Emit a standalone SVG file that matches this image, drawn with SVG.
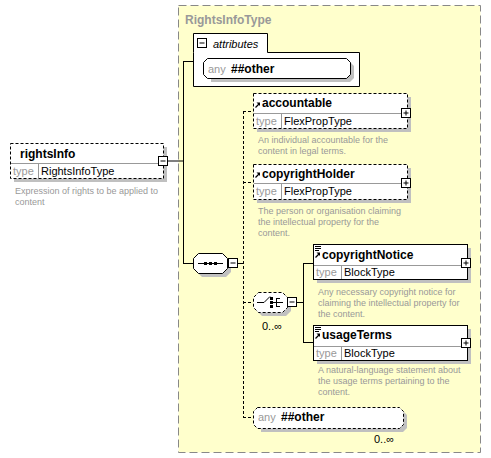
<svg xmlns="http://www.w3.org/2000/svg" width="491" height="458" viewBox="0 0 491 458">
<defs>
<style>
text{font-family:"Liberation Sans",Arial,sans-serif}
.nm{font-size:12px;font-weight:bold;fill:#000}
.ty{font-size:11px;fill:#999}
.tv{font-size:11px;fill:#000}
.ds{font-size:9px;fill:#999}
.sh{fill:#c0c0c0}
.box{fill:#fff;stroke:#000;stroke-width:1}
.dbox{fill:#fff;stroke:#000;stroke-width:1;stroke-dasharray:3,2}
.ln{stroke:#000;stroke-width:1;fill:none}
.dl{stroke:#000;stroke-width:1;fill:none;stroke-dasharray:3,2}
.sep{stroke:#999;stroke-width:1}
.pm{fill:#fff;stroke:#000;stroke-width:1}
</style>
<g id="plus"><rect class="pm" x="0" y="0" width="9" height="9"/><path class="ln" d="M2,4.5H7M4.5,2V7"/></g>
<g id="minus"><rect class="pm" x="0" y="0" width="9" height="9"/><path class="ln" d="M2,4.5H7"/></g>
<g id="arr"><path d="M0.5,5.5L4,2" stroke="#000" stroke-width="1.2" fill="none"/><path d="M1.5,0.5H5V4Z" fill="#000"/></g>
<g id="doc"><path d="M0,0.5H6M0,2.5H6M0,4.5H4" stroke="#000" stroke-width="1" fill="none"/></g>
</defs>

<g id="RightsInfoType">
<rect x="178.5" y="5.5" width="302" height="447" fill="#ffffcc" stroke="#888" stroke-width="1" stroke-dasharray="8,4"/>
<text x="185" y="24" font-size="12" font-weight="bold" fill="#999">RightsInfoType</text>
</g>

<g id="connectors">
<path class="ln" d="M168,161H183M183.5,61V263M183,61.5H193M183,263.5H193M237,263.5H243"/>
<path class="dl" d="M243.5,111V417M243,111.5H253M243,182.5H253M243,302.5H253M243,417.5H253"/>
<path class="ln" d="M297,302.5H303M303.5,263V342M303,263.5H313M303,342.5H313"/>
</g>

<g id="rightsInfo">
<rect class="sh" x="14" y="147" width="153" height="35"/>
<rect class="dbox" x="10.5" y="143.5" width="153" height="35"/>
<line class="sep" x1="11" y1="163.5" x2="163" y2="163.5"/>
<line class="sep" x1="38.5" y1="164" x2="38.5" y2="178"/>
<text class="nm" x="20" y="158">rightsInfo</text>
<text class="ty" x="13" y="175">type</text>
<text class="tv" x="41" y="175">RightsInfoType</text>
<use href="#minus" x="158.5" y="156.5"/>
<text class="ds" x="15" y="194">Expression of rights to be applied to</text>
<text class="ds" x="15" y="205">content</text>
</g>

<g id="attributes">
<path d="M193.5,52.5V33.5H267.5V52.5H359.5V86.5H193.5Z" fill="#fff" stroke="#000"/>
<use href="#minus" x="197.5" y="38.5"/>
<text x="213" y="48" font-size="11" font-style="italic" fill="#000">attributes</text>
<path class="sh" d="M211,62H350L354,66V78L350,82H211Z"/>
<path d="M207.5,58.5H346.5L350.5,62.5V74.5L346.5,78.5H207.5L203.5,74.5V62.5Z" fill="#fff" stroke="#000"/>
<text x="208" y="73" font-size="11" fill="#999">any</text>
<text class="nm" x="231" y="73">##other</text>
</g>

<g id="sequence">
<path class="sh" d="M202,257H226L231,262V272L226,277H202L197,272V262Z"/>
<path d="M198.5,253.5H222.5L227.5,258.5V268.5L222.5,273.5H198.5L193.5,268.5V258.5Z" fill="#fff" stroke="#000"/>
<path class="ln" d="M198,263.5H223"/>
<rect x="204" y="262" width="3" height="3" fill="#000"/>
<rect x="209" y="262" width="3" height="3" fill="#000"/>
<rect x="214" y="262" width="3" height="3" fill="#000"/>
<use href="#minus" x="228.5" y="258.5"/>
</g>

<g id="accountable">
<rect class="sh" x="257" y="97" width="154" height="35"/>
<rect class="dbox" x="253.5" y="93.5" width="154" height="35"/>
<line class="sep" x1="254" y1="113.5" x2="407" y2="113.5"/>
<line class="sep" x1="281.5" y1="114" x2="281.5" y2="128"/>
<use href="#arr" x="255" y="102"/>
<text class="nm" x="262" y="107">accountable</text>
<text class="ty" x="256" y="125">type</text>
<text class="tv" x="284" y="125">FlexPropType</text>
<use href="#plus" x="401.5" y="108.5"/>
<text class="ds" x="258" y="143">An individual accountable for the</text>
<text class="ds" x="258" y="154">content in legal terms.</text>
</g>

<g id="copyrightHolder">
<rect class="sh" x="257" y="168" width="154" height="35"/>
<rect class="dbox" x="253.5" y="164.5" width="154" height="35"/>
<line class="sep" x1="254" y1="183.5" x2="407" y2="183.5"/>
<line class="sep" x1="281.5" y1="184" x2="281.5" y2="199"/>
<use href="#arr" x="255" y="172"/>
<text class="nm" x="262" y="178">copyrightHolder</text>
<text class="ty" x="256" y="195">type</text>
<text class="tv" x="284" y="195">FlexPropType</text>
<use href="#plus" x="401.5" y="178.5"/>
<text class="ds" x="258" y="214">The person or organisation claiming</text>
<text class="ds" x="258" y="225">the intellectual property for the</text>
<text class="ds" x="258" y="236">content.</text>
</g>

<g id="choice">
<path class="sh" d="M262,296H286L291,301V311L286,316H262L257,311V301Z"/>
<path d="M258.5,292.5H282.5L287.5,297.5V307.5L282.5,312.5H258.5L253.5,307.5V297.5Z" fill="#fff" stroke="#000" stroke-dasharray="3,2"/>
<path class="ln" d="M257,302.5H264L270,296.5M272,302.5H283M276.5,298V307M276,298.5H280M276,306.5H280"/>
<rect x="270" y="297" width="3" height="3" fill="#000"/>
<rect x="270" y="301" width="3" height="3" fill="#000"/>
<rect x="270" y="305" width="3" height="3" fill="#000"/>
<use href="#minus" x="287.5" y="297.5"/>
<text x="262" y="330" font-size="11" fill="#000">0..∞</text>
</g>

<g id="copyrightNotice">
<rect class="sh" x="317" y="248" width="154" height="35"/>
<rect class="box" x="313.5" y="244.5" width="154" height="35"/>
<line class="sep" x1="314" y1="265.5" x2="467" y2="265.5"/>
<line class="sep" x1="341.5" y1="266" x2="341.5" y2="279"/>
<use href="#doc" x="315" y="246"/>
<use href="#arr" x="315" y="252"/>
<text class="nm" x="322" y="259">copyrightNotice</text>
<text class="ty" x="316" y="276">type</text>
<text class="tv" x="344" y="276">BlockType</text>
<use href="#plus" x="461.5" y="258.5"/>
<text class="ds" x="318" y="295">Any necessary copyright notice for</text>
<text class="ds" x="318" y="306">claiming the intellectual property for</text>
<text class="ds" x="318" y="317">the content.</text>
</g>

<g id="usageTerms">
<rect class="sh" x="317" y="329" width="154" height="35"/>
<rect class="box" x="313.5" y="325.5" width="154" height="35"/>
<line class="sep" x1="314" y1="346.5" x2="467" y2="346.5"/>
<line class="sep" x1="341.5" y1="347" x2="341.5" y2="360"/>
<use href="#doc" x="315" y="327"/>
<use href="#arr" x="315" y="333"/>
<text class="nm" x="322" y="339">usageTerms</text>
<text class="ty" x="316" y="357">type</text>
<text class="tv" x="344" y="357">BlockType</text>
<use href="#plus" x="461.5" y="338.5"/>
<text class="ds" x="318" y="373">A natural-language statement about</text>
<text class="ds" x="318" y="384">the usage terms pertaining to the</text>
<text class="ds" x="318" y="395">content.</text>
</g>

<g id="anyOther">
<path class="sh" d="M261,411H403L407,415V428L403,432H261Z"/>
<path d="M257.5,407.5H399.5L403.5,411.5V424.5L399.5,428.5H257.5L253.5,424.5V411.5Z" fill="#fff" stroke="#000" stroke-dasharray="3,2"/>
<text x="258" y="421" font-size="11" fill="#999">any</text>
<text class="nm" x="281" y="421">##other</text>
<text x="374" y="443" font-size="11" fill="#000">0..∞</text>
</g>
</svg>
